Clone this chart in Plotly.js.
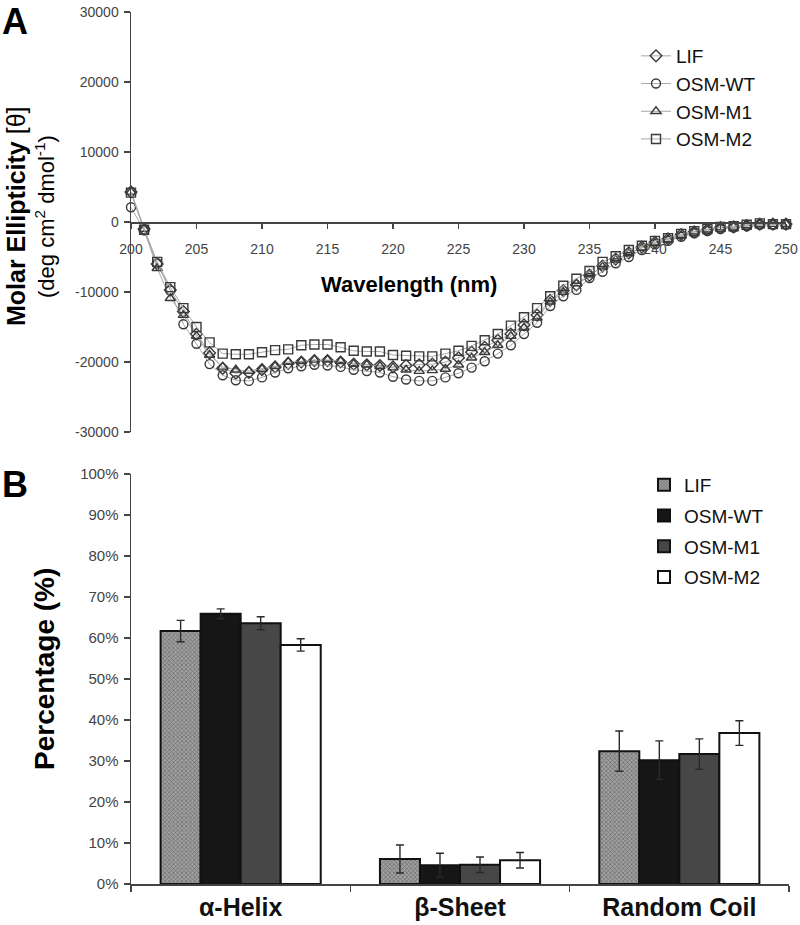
<!DOCTYPE html>
<html>
<head>
<meta charset="utf-8">
<script src="https://cdn.plot.ly/plotly-3.0.1.min.js"></script>
<style>html,body{margin:0;padding:0;background:#fff;}#chart{width:800px;height:925px;}</style>
</head>
<body>
<div id="chart"></div>
<script>
// ---------- Panel A data ----------
const wavelength = [200,201,202,203,204,205,206,207,208,209,210,211,212,213,214,215,216,217,218,219,220,221,222,223,224,225,226,227,228,229,230,231,232,233,234,235,236,237,238,239,240,241,242,243,244,245,246,247,248,249,250];
const lifCD = [4300,-1000,-6000,-9700,-12800,-16000,-18700,-20900,-21600,-21500,-21100,-20700,-20200,-20000,-19800,-19800,-20000,-20300,-20400,-20500,-20700,-20500,-20400,-20300,-20000,-19400,-18600,-17900,-16900,-16000,-14700,-13300,-11200,-9800,-9000,-7600,-6300,-5300,-4400,-3600,-2900,-2400,-1800,-1400,-1100,-800,-700,-500,-300,-300,-300];
const wtCD = [2100,-1200,-5900,-9800,-14600,-17400,-20300,-21900,-22600,-22700,-22200,-21500,-20900,-20600,-20400,-20500,-20700,-21100,-21300,-21500,-22100,-22500,-22700,-22700,-22200,-21600,-20800,-19900,-18800,-17600,-16000,-14400,-12000,-10600,-9700,-8000,-7100,-5900,-5000,-4000,-3200,-2700,-2100,-1600,-1300,-1000,-800,-600,-400,-400,-400];
const m1CD = [4300,-1000,-6600,-10900,-13300,-16300,-19000,-20700,-21100,-21300,-21000,-20600,-20000,-19900,-19700,-19700,-19900,-20300,-20400,-20600,-20800,-21100,-21300,-21200,-21000,-20400,-19400,-18600,-17600,-16300,-15100,-13700,-11400,-10000,-8800,-7500,-6400,-5400,-4500,-3700,-3000,-2500,-1900,-1400,-1100,-800,-700,-500,-300,-300,-300];
const m2CD = [4200,-1100,-5700,-9300,-12300,-15000,-17200,-18800,-18900,-18900,-18600,-18300,-18200,-17600,-17500,-17500,-17900,-18400,-18500,-18500,-19000,-19100,-19200,-19200,-18800,-18400,-17700,-16900,-16000,-14800,-13600,-12300,-10600,-9100,-8100,-7000,-5700,-4900,-4000,-3400,-2700,-2300,-1700,-1300,-1000,-700,-600,-400,-200,-300,-300];
const yTicksA = [30000,20000,10000,0,-10000,-20000,-30000];
const yTickTextA = ['30000','20000','10000','0','-10000','-20000','-30000'];

// ---------- Panel B data ----------
const structures = ['α-Helix','β-Sheet','Random Coil'];
const lifPct = [61.7, 6.1, 32.4];
const lifErr = [2.6, 3.4, 4.9];
const wtPct = [65.9, 4.6, 30.2];
const wtErr = [1.2, 2.9, 4.7];
const m1Pct = [63.6, 4.7, 31.7];
const m1Err = [1.6, 1.9, 3.7];
const m2Pct = [58.3, 5.8, 36.8];
const m2Err = [1.5, 1.9, 3.0];

const W = 800, H = 925;
const px = x => x / W;
const py = y => 1 - y / H;

const FONT = 'Liberation Sans, Arial, sans-serif';
const mk = '#3a3a3a';
const lineCol = '#a8a8a8';

function cdTrace(name, y, symbol, grp) {
  return {
    type: 'scatter', mode: 'lines+markers', name: name, x: wavelength, y: y,
    xaxis: 'x', yaxis: 'y', legend: 'legend', legendgroup: grp, cliponaxis: false,
    line: {color: lineCol, width: 1},
    marker: {symbol: symbol, size: 9, color: mk, line: {width: 1.4, color: mk}}
  };
}

const errStyle = {type: 'data', visible: true, color: '#2a2a2a', thickness: 1.4, width: 4};

function barTrace(name, y, err, fill, pattern, grp) {
  const t = {
    type: 'bar', name: name, x: structures, y: y,
    xaxis: 'x2', yaxis: 'y2', legend: 'legend2', legendgroup: grp,
    marker: {color: fill, line: {color: '#111', width: 2}},
    error_y: Object.assign({array: err}, errStyle)
  };
  if (pattern) t.marker.pattern = pattern;
  return t;
}

const data = [
  cdTrace('LIF', lifCD, 'diamond-open', 'a1'),
  cdTrace('OSM-WT', wtCD, 'circle-open', 'a2'),
  cdTrace('OSM-M1', m1CD, 'triangle-up-open', 'a3'),
  cdTrace('OSM-M2', m2CD, 'square-open', 'a4'),
  barTrace('LIF', lifPct, lifErr, '#9a9a9a', {shape: 'x', size: 3, solidity: 0.4, fgcolor: '#333', bgcolor: '#a0a0a0', fillmode: 'overlay'}, 'b1'),
  barTrace('OSM-WT', wtPct, wtErr, '#161616', null, 'b2'),
  barTrace('OSM-M1', m1Pct, m1Err, '#474747', null, 'b3'),
  barTrace('OSM-M2', m2Pct, m2Err, '#ffffff', null, 'b4')
];

const yDomA = [py(432), py(12)];
const yDomB = [py(884), py(474)];

const tickFontA = {family: FONT, size: 14, color: '#444'};
const tickFontB = {family: FONT, size: 15, color: '#444'};

const layout = {
  width: W, height: H,
  margin: {l: 0, r: 0, t: 0, b: 0},
  paper_bgcolor: '#fff', plot_bgcolor: 'rgba(0,0,0,0)',
  font: {family: FONT, color: '#111'},
  showlegend: true,
  barmode: 'group', bargap: 0.27, bargroupgap: 0,
  xaxis: {
    domain: [px(131), px(786)], range: [200, 250], anchor: 'free',
    position: (yDomA[0] + yDomA[1]) / 2,
    showline: true, linecolor: '#444', linewidth: 1.5,
    ticks: 'outside', ticklen: 5, tickcolor: '#444', tickwidth: 1.2,
    tickvals: [200,205,210,215,220,225,230,235,240,245,250],
    tickfont: tickFontA, ticklabelstandoff: 9,
    showgrid: false, zeroline: false, fixedrange: true
  },
  yaxis: {
    domain: yDomA, range: [-30000, 30000], anchor: 'x',
    showline: true, linecolor: '#444', linewidth: 1.5,
    ticks: 'outside', ticklen: 6, tickcolor: '#444', tickwidth: 1.2,
    tickvals: yTicksA, ticktext: yTickTextA,
    tickfont: tickFontA, ticklabelstandoff: 2,
    showgrid: false, zeroline: false, fixedrange: true
  },
  xaxis2: {
    domain: [px(131), px(789)], anchor: 'y2', type: 'category',
    showline: true, linecolor: '#444', linewidth: 1.5,
    ticks: 'outside', ticklen: 6, tickcolor: '#444', tickwidth: 1.2,
    tickson: 'boundaries',
    tickfont: {family: FONT, size: 25, color: '#111', weight: 'bold'},
    ticklabelstandoff: 0,
    showgrid: false, zeroline: false, fixedrange: true
  },
  yaxis2: {
    domain: yDomB, range: [0, 100], anchor: 'x2',
    showline: true, linecolor: '#444', linewidth: 1.5,
    ticks: 'outside', ticklen: 6, tickcolor: '#444', tickwidth: 1.2,
    dtick: 10, ticksuffix: '%',
    tickfont: tickFontB, ticklabelstandoff: 2,
    showgrid: false, zeroline: false, fixedrange: true
  },
  legend: {
    x: px(636), y: py(37), xanchor: 'left', yanchor: 'top',
    bgcolor: 'rgba(0,0,0,0)', borderwidth: 0,
    font: {family: FONT, size: 19, color: '#111'},
    traceorder: 'grouped', tracegroupgap: 0, itemwidth: 30
  },
  legend2: {
    x: px(644), y: py(466), xanchor: 'left', yanchor: 'top',
    bgcolor: 'rgba(0,0,0,0)', borderwidth: 0,
    font: {family: FONT, size: 19, color: '#111'},
    traceorder: 'grouped', tracegroupgap: 3, itemwidth: 30
  },
  annotations: [
    {text: '<b>A</b>', x: px(0), y: py(22), xref: 'paper', yref: 'paper', xanchor: 'left', yanchor: 'middle', showarrow: false, font: {family: FONT, size: 36, color: '#000'}},
    {text: '<b>B</b>', x: px(0), y: py(484), xref: 'paper', yref: 'paper', xanchor: 'left', yanchor: 'middle', showarrow: false, font: {family: FONT, size: 36, color: '#000'}},
    {text: '<b>Molar Ellipticity</b> [θ]', x: px(16), y: py(216), xref: 'paper', yref: 'paper', xanchor: 'center', yanchor: 'middle', textangle: -90, showarrow: false, font: {family: FONT, size: 25, color: '#000'}},
    {text: '(deg cm<sup>2</sup> dmol<sup>-1</sup>)', x: px(45), y: py(217), xref: 'paper', yref: 'paper', xanchor: 'center', yanchor: 'middle', textangle: -90, showarrow: false, font: {family: FONT, size: 22, color: '#000'}},
    {text: '<b>Wavelength (nm)</b>', x: px(409), y: py(285), xref: 'paper', yref: 'paper', xanchor: 'center', yanchor: 'middle', showarrow: false, font: {family: FONT, size: 22, color: '#000'}},
    {text: '<b>Percentage (%)</b>', x: px(44), y: py(669), xref: 'paper', yref: 'paper', xanchor: 'center', yanchor: 'middle', textangle: -90, showarrow: false, font: {family: FONT, size: 28, color: '#000'}}
  ]
};

Plotly.newPlot('chart', data, layout, {staticPlot: true, displayModeBar: false});
</script>
</body>
</html>
